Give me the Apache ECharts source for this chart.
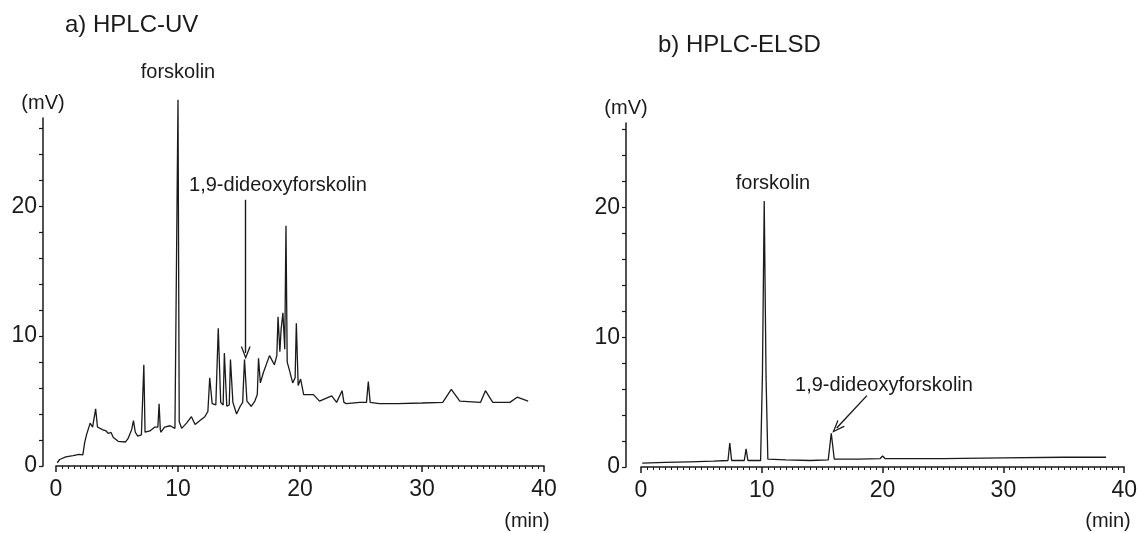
<!DOCTYPE html>
<html>
<head>
<meta charset="utf-8">
<script src="https://cdn.jsdelivr.net/npm/echarts@6/dist/echarts.min.js"></script>
<style>html,body{margin:0;padding:0;background:#fff}#c{width:1140px;height:533px}</style>
</head>
<body>
<div id="c"></div>
<script>
// ---- Data ----
const uvTime = [0.1,0.3,0.8,1.4,1.9,2.2,2.35,2.5,2.8,3.0,3.1,3.25,3.4,3.8,4.1,4.3,4.5,4.7,5.1,5.7,5.9,6.2,6.35,6.5,6.7,7.0,7.1,7.2,7.3,7.7,8.1,8.35,8.45,8.55,8.6,8.9,9.35,9.75,9.9,10.0,10.1,10.3,10.7,11.1,11.4,11.8,12.2,12.45,12.6,12.8,13.1,13.3,13.5,13.7,13.8,14.0,14.2,14.3,14.5,14.8,15.1,15.3,15.45,15.65,16.0,16.3,16.5,16.6,16.75,17.0,17.5,17.9,18.1,18.2,18.35,18.45,18.6,18.75,18.85,18.95,19.1,19.4,19.6,19.7,19.85,20.05,20.3,21.1,21.6,22.6,23.0,23.45,23.6,23.8,24.9,25.45,25.6,25.75,26.5,28,30,31.7,32.4,33.1,34.8,35.2,35.8,37.2,37.8,38.7];
const uvSignal = [0.25,0.5,0.7,0.8,0.9,0.85,1.8,2.4,3.3,3.0,2.9,4.4,3.0,2.8,2.7,2.5,2.6,2.2,1.9,1.85,2.1,2.8,3.5,2.6,2.3,2.4,2.5,7.8,2.6,2.7,3.0,3.0,4.8,2.8,2.6,3.0,3.1,2.9,3.0,28.2,3.4,2.9,3.3,3.8,3.2,3.5,3.8,4.2,6.8,4.8,4.7,10.6,4.9,4.7,8.7,4.6,4.7,8.2,4.9,4.0,4.6,4.9,8.2,5.0,4.6,5.0,5.5,8.3,6.4,7.2,8.5,7.8,8.5,11.5,8.8,10.5,11.8,9.0,18.5,8.0,7.5,6.4,6.8,11.0,6.2,6.7,5.5,5.5,5.0,5.4,4.9,5.8,4.9,4.8,4.9,4.9,6.5,4.9,4.8,4.8,4.85,4.9,5.9,5.0,4.9,5.8,4.9,4.9,5.3,5.0];

const elsdTime = [0.1,2,4,6,7.2,7.35,7.5,8.55,8.7,8.85,9.9,10.05,10.2,10.35,10.5,12,14,15.5,15.75,16.0,18,19.8,20.0,20.2,25,30,35,38.5];
const elsdSignal = [0.3,0.35,0.4,0.45,0.5,1.85,0.5,0.5,1.4,0.5,0.5,7,20.5,7,0.6,0.55,0.5,0.55,2.6,0.6,0.6,0.65,0.85,0.65,0.65,0.7,0.75,0.75];

const xTicks = [0, 10, 20, 30, 40];
const yLabelValues = [0, 10, 20];
const panelTitles = ['a) HPLC-UV', 'b) HPLC-ELSD'];
const compoundNames = ['forskolin', '1,9-dideoxyforskolin'];
// arrow endpoints in data units [time, mV]
const uvArrow = [[15.55, 20.5], [15.55, 8.7]];
const elsdArrow = [[18.7, 5.5], [16.2, 3.0]];

// ---- Chart ----
const FONT = 'Liberation Sans, Arial, sans-serif';
const INK = '#1a1a1a';
const chevron = 'path://M5,0 L10,12 L8.6,12 L5,3.2 L1.4,12 L0,12 Z';

function zip(a, b) { return a.map((t, i) => [t, b[i]]); }

function xAxisCfg(gi) {
  return {
    type: 'value', gridIndex: gi, min: 0, max: 40, interval: 10,
    axisLine: { show: true, onZero: false, lineStyle: { color: INK, width: 1.5 } },
    axisTick: { show: true, length: 6, lineStyle: { color: INK, width: 1.5 } },
    minorTick: { show: true, splitNumber: 20, length: 3, lineStyle: { color: INK, width: 1 } },
    splitLine: { show: false },
    axisLabel: { color: INK, fontSize: 23, fontFamily: FONT, margin: 12 }
  };
}
function yAxisCfg(gi, max, offset) {
  return {
    type: 'value', gridIndex: gi, min: 0, max: max, interval: 2, offset: offset,
    name: '(mV)', nameLocation: 'end', nameGap: 5,
    nameTextStyle: { color: INK, fontSize: 20, fontFamily: FONT, align: 'center' },
    axisLine: { show: true, onZero: false, lineStyle: { color: INK, width: 1.5 } },
    axisTick: { show: true, length: 4, lineStyle: { color: INK, width: 1.2 } },
    splitLine: { show: false },
    axisLabel: {
      show: true, interval: 0, color: INK, fontSize: 23, fontFamily: FONT, margin: 6,
      showMaxLabel: false,
      formatter: v => yLabelValues.some(y => Math.abs(y - v) < 1e-6) ? String(v) : ''
    }
  };
}
function arrowLine(pts) {
  return {
    silent: true, animation: false,
    symbol: ['none', chevron], symbolSize: [10, 13],
    lineStyle: { color: INK, width: 1.4, type: 'solid' },
    label: { show: false },
    data: [[{ coord: pts[0] }, { coord: pts[1] }]]
  };
}
function label(text, x, y, size) {
  return { type: 'text', x: x, y: y, style: { text: text, align: 'center', verticalAlign: 'middle', fontSize: size, fontFamily: FONT, fill: INK } };
}

const chart = echarts.init(document.getElementById('c'));
chart.setOption({
  animation: false,
  backgroundColor: '#fff',
  textStyle: { fontFamily: FONT },
  title: [
    { text: panelTitles[0], left: 60, top: 8, textStyle: { fontSize: 24, fontWeight: 'normal', color: INK, fontFamily: FONT } },
    { text: panelTitles[1], left: 653, top: 28, textStyle: { fontSize: 24, fontWeight: 'normal', color: INK, fontFamily: FONT } }
  ],
  grid: [
    { left: 56, top: 118, width: 488, height: 348 },
    { left: 641, top: 123, width: 484, height: 344 }
  ],
  xAxis: [xAxisCfg(0), xAxisCfg(1)],
  yAxis: [yAxisCfg(0, 26.8, 13), yAxisCfg(1, 26.5, 15)],
  series: [
    {
      type: 'line', xAxisIndex: 0, yAxisIndex: 0, data: zip(uvTime, uvSignal),
      showSymbol: false, clip: false, lineStyle: { color: INK, width: 1.3 },
      markLine: arrowLine(uvArrow)
    },
    {
      type: 'line', xAxisIndex: 1, yAxisIndex: 1, data: zip(elsdTime, elsdSignal),
      showSymbol: false, clip: false, lineStyle: { color: INK, width: 1.3 },
      markLine: arrowLine(elsdArrow)
    }
  ],
  graphic: [
    label(compoundNames[0], 178, 72, 20),
    label(compoundNames[1], 278, 185, 20),
    label(compoundNames[0], 773, 183, 20),
    label(compoundNames[1], 884, 385, 20),
    label('(min)', 527, 521, 20),
    label('(min)', 1108, 521, 20)
  ]
});
</script>
</body>
</html>
